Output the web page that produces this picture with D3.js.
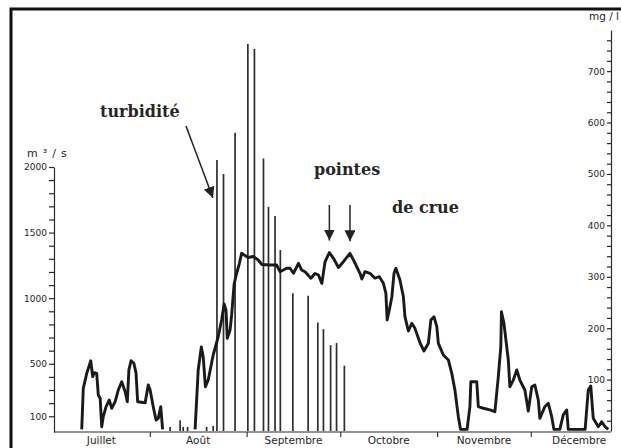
<!DOCTYPE html>
<html>
<head>
<meta charset="utf-8">
<script src="https://cdn.jsdelivr.net/npm/d3@7"></script>
<style>
  html, body { margin: 0; padding: 0; background: #fff; }
  svg { display: block; }
</style>
</head>
<body>
<svg id="chart" width="621" height="448"></svg>
<script>
// Calendar: day index counted from 1 July
const months = ["Juillet", "Août", "Septembre", "Octobre", "Novembre", "Décembre"];
const monthStart = [0, 31, 62, 92, 123, 153, 184];

// Labelled ticks on each axis
const flowTickLabels = [2000, 1500, 1000, 500, 100];
const turbTickLabels = [100, 200, 300, 400, 500, 600, 700];

// Daily discharge (m³/s) as [day, value]; null marks the break in the record
const discharge = [
  [9.2, 0], [9.7, 313], [10.8, 427], [12.1, 523], [12.7, 402], [13.2, 432], [14.0, 427],
  [14.5, 262], [15.1, 237], [15.6, 20], [16.1, 97], [17.0, 173], [18.0, 224], [18.8, 161],
  [19.9, 211], [20.9, 300], [22.0, 363], [23.1, 287], [23.8, 211], [24.3, 453], [25.0, 523],
  [25.9, 504], [26.6, 427], [27.1, 211], [29.5, 203], [30.5, 338], [31.1, 300], [32.1, 173],
  [33.0, 71], [33.7, 84], [34.5, 173], [35.1, 0],
  [40.0, null],
  [45.5, 0], [46.5, 453], [47.5, 628], [48.1, 554], [48.8, 325], [49.7, 376], [51.3, 567],
  [52.9, 706], [54.0, 834], [54.8, 956], [55.4, 910], [55.8, 694], [56.7, 757], [57.2, 872],
  [58.0, 1108], [58.8, 1190], [59.7, 1266], [60.4, 1342], [62.5, 1310], [64.1, 1318],
  [65.7, 1291], [66.9, 1257], [69.5, 1253], [71.6, 1253], [72.7, 1202], [74.8, 1228],
  [75.9, 1228], [77.0, 1190], [78.6, 1266], [79.6, 1215], [80.7, 1202], [82.6, 1152],
  [83.9, 1188], [85.0, 1177], [86.1, 1113], [87.1, 1276], [88.5, 1348], [89.8, 1304],
  [91.4, 1234], [93.0, 1278], [95.1, 1342], [96.7, 1268], [98.3, 1190], [98.9, 1146],
  [99.9, 1202], [101.5, 1190], [103.1, 1152], [104.5, 1164], [105.8, 1113], [106.6, 1037],
  [107.0, 834], [107.7, 910], [108.5, 1009], [109.2, 1190], [109.8, 1228], [111.1, 1139],
  [112.2, 1011], [112.7, 859], [113.8, 750], [114.9, 809], [115.9, 770], [117.5, 662],
  [118.8, 597], [120.2, 656], [121.0, 834], [122.0, 859], [122.9, 783], [123.4, 656],
  [125.0, 567], [126.6, 529], [127.7, 427], [128.7, 300], [129.8, 97], [130.5, 0],
  [132.6, 0], [133.5, 173], [133.8, 363], [135.7, 363], [136.2, 173], [137.8, 161],
  [139.9, 148], [141.5, 135], [142.6, 402], [143.4, 630], [143.6, 897], [144.4, 809],
  [145.8, 529], [146.3, 325], [147.4, 376], [148.5, 453], [149.5, 376], [151.1, 300],
  [152.2, 140], [153.3, 325], [154.3, 338], [155.4, 224], [155.9, 84], [157.5, 173],
  [158.6, 199], [159.7, 97], [160.4, 0], [162.3, 0], [163.4, 110], [164.5, 148],
  [165.0, 0], [170.4, 0], [171.4, 300], [172.2, 331], [173.0, 84], [174.6, 20],
  [175.7, 58], [176.8, 20], [177.8, 0]
];

// Turbidity samples (mg/l)
const turbDay = [37.5, 40.7, 41.7, 43.1, 49.2, 51.3, 52.5, 54.6, 58.3, 62.4, 64.5, 67.4,
                 69.0, 71.1, 72.8, 76.8, 81.7, 84.8, 86.6, 88.9, 90.8, 93.3];
const turbValue = [8, 21, 8, 8, 8, 10, 527, 500, 580, 753, 743, 530,
                   436, 418, 352, 268, 263, 211, 198, 167, 171, 127];

// Flood peaks pointed at by the arrows (days)
const floodPeakDays = [88.5, 95.1];

const svg = d3.select("#chart");
const ink = "#1a1a1a";
const textInk = "#262626";

const x = d3.scaleLinear().domain([0, 184]).range([53, 627.6]);
const yL = d3.scaleLinear().domain([-20, 2000]).range([432, 167]);
const yR = d3.scaleLinear().domain([0, 780]).range([431, 30]);
const axisLeftX = 54, axisRightX = 611, baseY = 432;

// Frame
svg.append("path")
  .attr("d", "M11,448V9H621")
  .attr("fill", "none").attr("stroke", "#111").attr("stroke-width", 3);

// Left axis (discharge)
const gL = svg.append("g")
  .attr("transform", `translate(${axisLeftX},0)`)
  .call(d3.axisLeft(yL)
    .tickValues(d3.range(100, 2001, 100))
    .tickSize(5).tickSizeOuter(0).tickPadding(2)
    .tickFormat(d => flowTickLabels.includes(d) ? d : ""));

// Right axis (turbidity)
const gR = svg.append("g")
  .attr("transform", `translate(${axisRightX},0)`)
  .call(d3.axisLeft(yR)
    .tickValues(d3.range(20, 761, 20))
    .tickSize(4).tickSizeOuter(0).tickPadding(2)
    .tickFormat(d => turbTickLabels.includes(d) ? d : ""));

[gL, gR].forEach(g => {
  g.selectAll("path.domain").attr("stroke", "#2a2a2a").attr("stroke-width", 1.2);
  g.selectAll(".tick line").attr("stroke", "#2a2a2a").attr("stroke-width", 1.2);
  g.selectAll(".tick text")
    .attr("font-family", "DejaVu Sans").attr("font-size", 9)
    .attr("fill", textInk);
});

// Time axis
svg.append("line")
  .attr("x1", axisLeftX).attr("x2", axisRightX)
  .attr("y1", baseY).attr("y2", baseY)
  .attr("stroke", "#2a2a2a").attr("stroke-width", 1.2);

const gX = svg.append("g")
  .attr("transform", `translate(0,${baseY})`)
  .call(d3.axisBottom(x)
    .tickValues(monthStart.slice(1, 6))
    .tickSize(5).tickSizeOuter(0).tickFormat(""));
gX.select("path.domain").remove();
gX.selectAll(".tick line").attr("stroke", "#2a2a2a").attr("stroke-width", 1.1);

svg.append("g").selectAll("text")
  .data(months)
  .join("text")
  .attr("x", (m, i) => x((monthStart[i] + monthStart[i + 1]) / 2))
  .attr("y", 444)
  .attr("text-anchor", "middle")
  .attr("font-family", "DejaVu Sans").attr("font-size", 10.5)
  .attr("fill", textInk)
  .text(m => m);

// Units
svg.append("text").attr("x", 27).attr("y", 157)
  .attr("font-family", "DejaVu Sans").attr("font-size", 11)
  .attr("letter-spacing", 0.8).attr("fill", textInk)
  .text("m ³ / s");
svg.append("text").attr("x", 619).attr("y", 20)
  .attr("text-anchor", "end")
  .attr("font-family", "DejaVu Sans").attr("font-size", 10.5).attr("fill", textInk)
  .text("mg / l");

// Turbidity bars
svg.append("g").selectAll("line")
  .data(turbDay.map((d, i) => ({ day: d, v: turbValue[i] })))
  .join("line")
  .attr("x1", d => x(d.day)).attr("x2", d => x(d.day))
  .attr("y1", yR(0)).attr("y2", d => yR(d.v))
  .attr("stroke", "#2e2e2e").attr("stroke-width", 1.7);

// Discharge line
const line = d3.line()
  .defined(d => d[1] !== null)
  .x(d => x(d[0]))
  .y(d => yL(d[1]));

svg.append("path")
  .datum(discharge)
  .attr("d", line)
  .attr("fill", "none")
  .attr("stroke", ink)
  .attr("stroke-width", 2.9)
  .attr("stroke-linejoin", "round");

// Annotations
const defs = svg.append("defs");
defs.append("marker")
  .attr("id", "head").attr("viewBox", "0 0 10 10")
  .attr("refX", 10).attr("refY", 5)
  .attr("markerWidth", 11).attr("markerHeight", 11)
  .attr("markerUnits", "userSpaceOnUse")
  .attr("orient", "auto")
  .append("path").attr("d", "M0,0L10,5L0,10Z").attr("fill", "#222");

const serif = g => g.attr("font-family", "DejaVu Serif").attr("font-weight", "bold")
  .attr("font-size", 16).attr("fill", textInk);

svg.append("text").attr("x", 100).attr("y", 117).call(serif).text("turbidité");
svg.append("line")
  .attr("x1", 186).attr("y1", 126)
  .attr("x2", x(turbDay[6]) - 4).attr("y2", 198)
  .attr("stroke", "#222").attr("stroke-width", 1.5)
  .attr("marker-end", "url(#head)");

svg.append("text").attr("x", 314).attr("y", 175).call(serif).text("pointes");
svg.append("text").attr("x", 392).attr("y", 213).call(serif).text("de crue");

floodPeakDays.forEach(d => {
  const peak = discharge.find(p => p[0] === d);
  svg.append("line")
    .attr("x1", x(d)).attr("x2", x(d))
    .attr("y1", 205).attr("y2", yL(peak[1]) - 12)
    .attr("stroke", "#222").attr("stroke-width", 1.5)
    .attr("marker-end", "url(#head)");
});
</script>
</body>
</html>
